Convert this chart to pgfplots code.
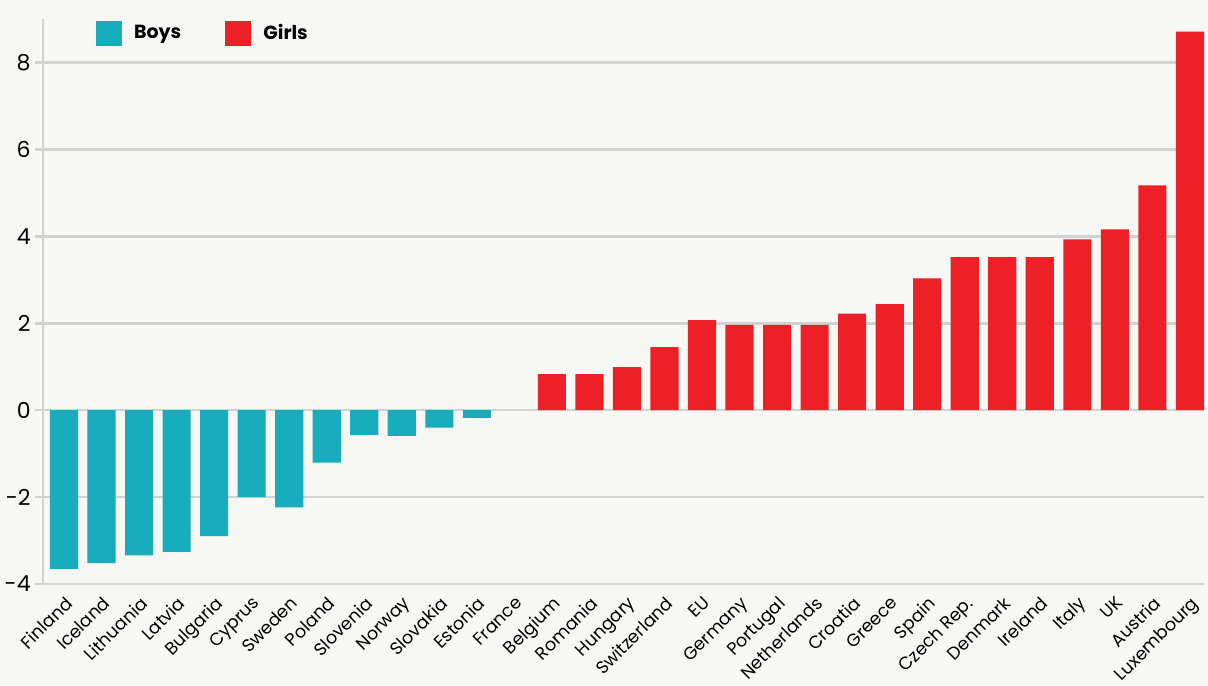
\documentclass[border=0pt]{standalone}
\usepackage{fontspec}
\setmainfont{Poppins}
\usepackage{pgfplots}
\pgfplotsset{compat=1.18}
\usetikzlibrary{backgrounds}
\definecolor{boys}{HTML}{17ADBC}
\definecolor{girls}{HTML}{ED1F27}
\definecolor{bg}{HTML}{F7F7F3}
\definecolor{gridc}{HTML}{D2D2D2}
\begin{document}
\begin{tikzpicture}
\begin{axis}[
  name=ax,
  scale only axis, width=580.5pt, height=282.5pt,
  xmin=-0.56, xmax=30.375, ymin=-4, ymax=9,
  ybar, bar width=0.75, bar shift=0pt,
  axis lines*=left,
  axis line style={gridc, line width=1.3pt},
  ytick={-4,-2,0,2,4,6,8},
  yticklabels={-4,-2,0,2,4,6,8},
  ymajorgrids,
  grid style={gridc, line width=1.3pt},
  ytick style={gridc, line width=1.3pt},
  tick align=outside, major tick length=4pt,
  yticklabel style={font=\fontsize{11}{13}\selectfont, inner sep=1pt, xshift=-1pt},
  xtick={0,...,30},
  xtick style={draw=none},
  xticklabels={Finland,Iceland,Lithuania,Latvia,Bulgaria,Cyprus,Sweden,Poland,Slovenia,Norway,Slovakia,Estonia,France,Belgium,Romania,Hungary,Switzerland,EU,Germany,Portugal,Netherlands,Croatia,Greece,Spain,Czech Rep.,Denmark,Ireland,Italy,UK,Austria,Luxembourg},
  xticklabel style={font=\fontsize{8.8}{11}\selectfont, rotate=45, anchor=north east, inner sep=1pt, yshift=0pt},
  legend columns=2,
  legend style={draw=none, fill=none, at={(rel axis cs:0.04,1.005)}, anchor=north west,
    font=\bfseries\fontsize{9.5}{11}\selectfont,
    /tikz/every even column/.append style={column sep=20pt}},
  legend image code/.code={\fill[#1] (0cm,-0.22cm) rectangle (0.46cm,0.22cm);},
]
\addplot[fill=boys, draw=none] coordinates {
 (0,-3.65) (1,-3.52) (2,-3.34) (3,-3.26) (4,-2.90) (5,-2.00) (6,-2.24)
 (7,-1.21) (8,-0.57) (9,-0.59) (10,-0.40) (11,-0.18)};
\addlegendentry{\hspace{4pt}Boys}
\addplot[fill=girls, draw=none] coordinates {
 (13,0.83) (14,0.83) (15,0.99) (16,1.45) (17,2.07) (18,1.96) (19,1.96)
 (20,1.96) (21,2.22) (22,2.44) (23,3.03) (24,3.52) (25,3.52) (26,3.52)
 (27,3.93) (28,4.16) (29,5.17) (30,8.71)};
\addlegendentry{\hspace{4pt}Girls}
\end{axis}
\pgfresetboundingbox
\path[use as bounding box] ([shift={(-21.5pt,-51pt)}]ax.south west) rectangle ([shift={(2pt,9.5pt)}]ax.north east);
\begin{scope}[on background layer]
\fill[bg] ([shift={(-21.5pt,-51pt)}]ax.south west) rectangle ([shift={(2pt,9.5pt)}]ax.north east);
\end{scope}
\end{tikzpicture}
\end{document}
